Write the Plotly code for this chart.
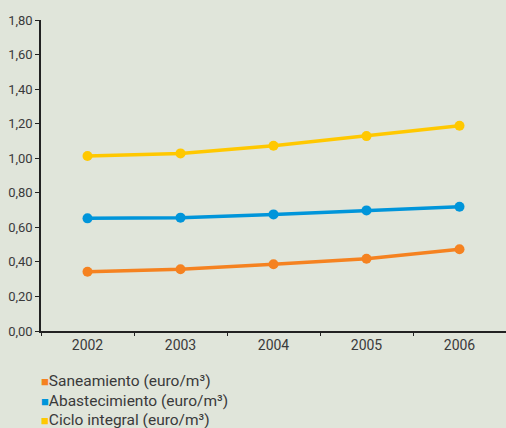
import plotly.graph_objects as go

years = ["2002", "2003", "2004", "2005", "2006"]
saneamiento = [0.343, 0.357, 0.386, 0.418, 0.473]
abastecimiento = [0.652, 0.656, 0.675, 0.698, 0.719]
ciclo = [1.013, 1.028, 1.072, 1.128, 1.188]

names = ["Saneamiento (euro/m³)",
         "Abastecimiento (euro/m³)",
         "Ciclo integral (euro/m³)"]
colors = ["#F58220", "#0095DA", "#FFC800"]
series = [saneamiento, abastecimiento, ciclo]

bg = "#E0E5DA"
font = "Roboto"

fig = go.Figure()
for vals, name, col in zip(series, names, colors):
    fig.add_trace(go.Scatter(
        x=years, y=vals, name=name, mode="lines+markers",
        line=dict(color=col, width=3.5),
        marker=dict(color=col, size=10),
        showlegend=False,
    ))

# legend drawn as text rows under the plot
for i, (name, col) in enumerate(zip(names, colors)):
    fig.add_annotation(
        xref="paper", yref="paper", x=-0.004, y=-0.161 - i * 0.063,
        xanchor="left", yanchor="middle", showarrow=False,
        text=f'<span style="color:{col};font-size:13px">■</span>{name}',
        font=dict(family=font, size=15.5, color="#3a3a3a"),
    )

fig.update_layout(
    width=506, height=428,
    margin=dict(l=41, r=0, t=20, b=97),
    paper_bgcolor=bg, plot_bgcolor=bg,
    font=dict(family=font, size=12, color="#3a3a3a"),
    separators=",.",
)
fig.update_xaxes(
    type="category", range=[-0.5, 4.5],
    showline=True, linecolor="#222", linewidth=1.5,
    ticks="outside", tickson="boundaries", ticklen=3, tickcolor="#222",
    showgrid=False, tickfont=dict(size=14),
)
fig.update_yaxes(
    range=[0, 1.8], dtick=0.2, tickformat=".2f",
    showline=True, linecolor="#222", linewidth=1.5,
    ticks="outside", ticklen=4, tickcolor="#222",
    showgrid=False, zeroline=False, tickfont=dict(size=13),
)

fig.write_html("out.html", config={"displayModeBar": False},
               post_script="document.body.style.margin='0';")
